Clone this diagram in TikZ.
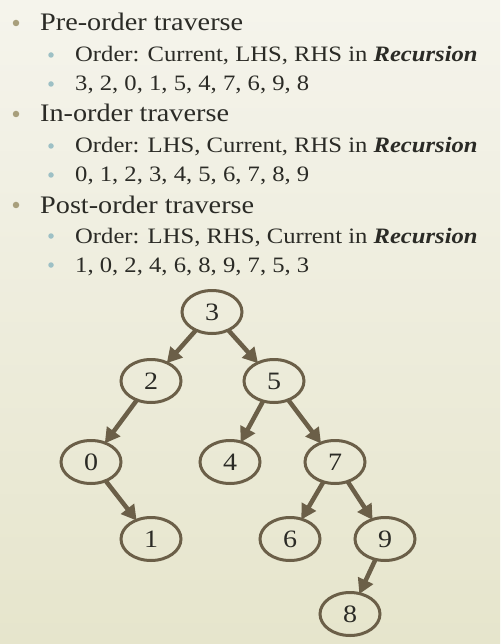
\documentclass[tikz,border=0pt]{standalone}
\usepackage{fontspec}
\setmainfont[FakeStretch=1.12]{Liberation Serif}
\usetikzlibrary{arrows.meta,shapes.geometric}
\definecolor{bgtop}{HTML}{F5F4EC}
\definecolor{bgbot}{HTML}{E6E5CC}
\definecolor{txt}{HTML}{2B2B26}
\definecolor{edge}{HTML}{6B5F48}
\definecolor{bulA}{HTML}{A89F7C}
\definecolor{bulB}{HTML}{9DC0C5}
\tikzset{
  lvlone/.style={anchor=base west, inner sep=0pt, text=txt, font=\fontsize{25.2}{28}\selectfont},
  lvltwo/.style={anchor=base west, inner sep=0pt, text=txt, font=\fontsize{22}{26}\selectfont},
  bulone/.style={circle, fill=bulA, inner sep=0pt, minimum size=6.5pt},
  bultwo/.style={circle, fill=bulB, inner sep=0pt, minimum size=5.5pt},
  tnode/.style={ellipse, draw=edge, line width=3pt, minimum width=60pt, minimum height=43pt, inner sep=0pt, text=txt, font=\fontsize{25}{28}\selectfont},
  tedge/.style={draw=edge, line width=4.5pt, -{Triangle[length=15pt,width=16pt]}, shorten <=-1pt, shorten >=-2pt},
}
\begin{document}
\begin{tikzpicture}[x=1pt,y=-1pt]
\useasboundingbox (0,0) rectangle (500,644);
\shade[top color=bgtop, bottom color=bgbot] (0,0) rectangle (500,644);
% bullets
\node[bulone] (b1) at (16,23) {};
\node[lvlone] (t1) at (40,31) {Pre-order traverse};
\node[bultwo] (b2) at (51,55) {};
\node[lvltwo] (t2) at (75,62) {Order: Current, LHS, RHS in \textbf{\textit{Recursion}}};
\node[bultwo] (b3) at (51,84) {};
\node[lvltwo] (t3) at (75,91) {3, 2, 0, 1, 5, 4, 7, 6, 9, 8};
\node[bulone] (b4) at (16,114) {};
\node[lvlone] (t4) at (40,122) {In-order traverse};
\node[bultwo] (b5) at (51,146) {};
\node[lvltwo] (t5) at (75,153) {Order: LHS, Current, RHS in \textbf{\textit{Recursion}}};
\node[bultwo] (b6) at (51,175) {};
\node[lvltwo] (t6) at (75,182) {0, 1, 2, 3, 4, 5, 6, 7, 8, 9};
\node[bulone] (b7) at (16,205) {};
\node[lvlone] (t7) at (40,213) {Post-order traverse};
\node[bultwo] (b8) at (51,236) {};
\node[lvltwo] (t8) at (75,243) {Order: LHS, RHS, Current in \textbf{\textit{Recursion}}};
\node[bultwo] (b9) at (51,265) {};
\node[lvltwo] (t9) at (75,272) {1, 0, 2, 4, 6, 8, 9, 7, 5, 3};
% tree
\node[tnode] (n3) at (212,312) {3};
\node[tnode] (n2) at (151,381) {2};
\node[tnode] (n5) at (274,381) {5};
\node[tnode] (n0) at (91,462) {0};
\node[tnode] (n4) at (230,462) {4};
\node[tnode] (n7) at (335,462) {7};
\node[tnode] (n1) at (151,539) {1};
\node[tnode] (n6) at (290,539) {6};
\node[tnode] (n9) at (385,539) {9};
\node[tnode] (n8) at (350,614) {8};
\draw[tedge] (n3) -- (n2);
\draw[tedge] (n3) -- (n5);
\draw[tedge] (n2) -- (n0);
\draw[tedge] (n0) -- (n1);
\draw[tedge] (n5) -- (n4);
\draw[tedge] (n5) -- (n7);
\draw[tedge] (n7) -- (n6);
\draw[tedge] (n7) -- (n9);
\draw[tedge] (n9) -- (n8);
\end{tikzpicture}
\end{document}
